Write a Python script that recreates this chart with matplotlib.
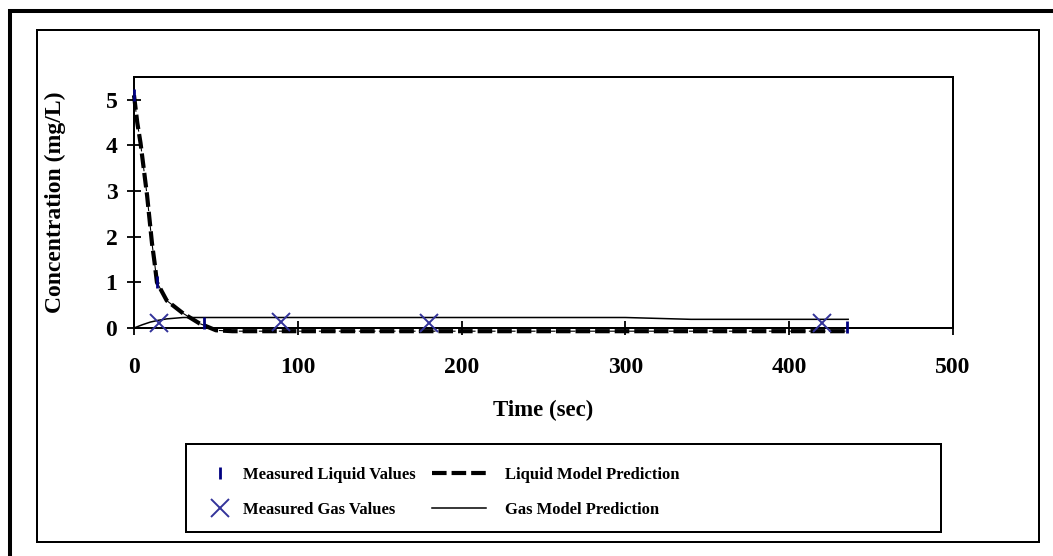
import numpy as np
import matplotlib
matplotlib.use("Agg")
from matplotlib import pyplot as plt
from matplotlib.patches import Rectangle

plt.rcParams['font.family'] = ['Liberation Serif', 'DejaVu Serif']
plt.rcParams['font.weight'] = 'bold'

# measured values
liq_meas_t = [0, 14, 43, 435]
liq_meas_c = [5.1, 1.0, 0.1, 0.03]
gas_meas_t = [15, 90, 180, 420]
gas_meas_c = [0.1, 0.14, 0.1, 0.1]

# model predictions
liq_model_t = [0, 2, 4, 8, 11, 12.5, 14, 20, 30, 40, 50, 60, 100, 200, 300, 400, 436]
liq_model_c = [5.1, 4.5, 4.05, 2.9, 1.85, 1.45, 1.0, 0.6, 0.32, 0.1, -0.05, -0.07,
               -0.07, -0.07, -0.07, -0.07, -0.07]
gas_model_t = [0, 5, 10, 15, 20, 30, 300, 320, 340, 436]
gas_model_c = [0, 0.07, 0.13, 0.17, 0.2, 0.23, 0.23, 0.21, 0.19, 0.19]

x_ticks = [0, 100, 200, 300, 400, 500]
y_ticks = [0, 1, 2, 3, 4, 5]

W, H = 1053, 556
fig = plt.figure(figsize=(W / 100, H / 100), dpi=100)

def fx(px):
    return px / W

def fy(py):
    return 1 - py / H

ax = fig.add_axes([fx(134), fy(328), fx(953) - fx(134), fy(77) - fy(328)])

ln_thin, = ax.plot(liq_model_t, liq_model_c, color="black", lw=0.8,
                   linestyle=(0, (6, 3)), clip_on=False, zorder=3)
ln_liq, = ax.plot(liq_model_t, liq_model_c, color="black", lw=3,
                  linestyle=(0, (3.5, 1.2)), clip_on=False, zorder=3)
ln_gas, = ax.plot(gas_model_t, gas_model_c, color="black", lw=1.1,
                  clip_on=False, zorder=3)
mk_liq, = ax.plot(liq_meas_t, liq_meas_c, linestyle="none", marker="|",
                  markersize=8, mew=2, color="#000080", clip_on=False, zorder=4)
mk_gas, = ax.plot(gas_meas_t, gas_meas_c, linestyle="none", marker="x",
                  markersize=13, mew=1.4, color="#33339A", clip_on=False, zorder=4)

ax.set_xlim(0, 500)
ax.set_ylim(0, 5.5)
ax.set_xticks(x_ticks)
ax.set_yticks(y_ticks)
ax.tick_params(direction="inout", length=10, width=1.3, labelsize=17)
ax.tick_params(axis="x", pad=16)
ax.tick_params(axis="y", pad=7)
for lab in ax.get_xticklabels() + ax.get_yticklabels():
    lab.set_fontweight("bold")
for sp in ax.spines.values():
    sp.set_linewidth(1.44)

ax.set_xlabel("Time (sec)", fontsize=16.5, fontweight="bold")
ax.xaxis.set_label_coords(0.5, -0.285)
ax.set_ylabel("Concentration (mg/L)", fontsize=17, fontweight="bold")
ax.yaxis.set_label_coords(-0.083, 0.5)

# outer frames
fig.patches.append(Rectangle((fx(9.5), -0.1), 2, fy(10.5) + 0.1, fill=False,
                             lw=2.9, ec="black", transform=fig.transFigure))
fig.patches.append(Rectangle((fx(37), fy(542)), fx(1039) - fx(37), fy(30) - fy(542),
                             fill=False, lw=1.44, ec="black", transform=fig.transFigure))
fig.patches.append(Rectangle((fx(186), fy(532)), fx(941) - fx(186), fy(444) - fy(532),
                             fill=False, lw=1.44, ec="black", transform=fig.transFigure))

# legend: markers column and lines column
leg_kw = dict(frameon=False, borderpad=0, borderaxespad=0, labelspacing=1.12,
              numpoints=1, loc="center left", prop={"weight": "bold", "size": 12})
fig.legend([mk_liq, mk_gas], ["Measured Liquid Values", "Measured Gas Values"],
           bbox_to_anchor=(fx(211), fy(492.5)), handlelength=1.08,
           handletextpad=0.84, **leg_kw)
fig.legend([ln_liq, ln_gas], ["Liquid Model Prediction", "Gas Model Prediction"],
           bbox_to_anchor=(fx(432), fy(492.5)), handlelength=3.25,
           handletextpad=1.14, **leg_kw)

fig.savefig("out.png", dpi=100)
